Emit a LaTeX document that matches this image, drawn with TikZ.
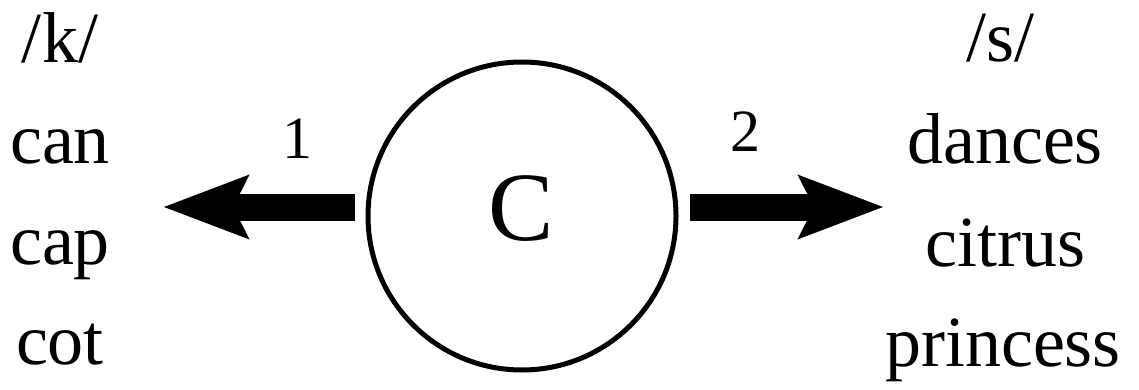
\documentclass[tikz,border=0pt]{standalone}
\usepackage{fontspec}
\setmainfont{LiberationSerif}[Extension=.ttf, UprightFont=*-Regular, BoldFont=*-Bold, ItalicFont=*-Italic, BoldItalicFont=*-BoldItalic]
\usetikzlibrary{arrows.meta}
\tikzset{
  word/.style={anchor=base, inner sep=0pt, font=\fontsize{72}{80}\selectfont},
  num/.style={anchor=base, inner sep=0pt, font=\fontsize{60}{66}\selectfont},
  bigarrow/.style={line width=27pt, shorten <=11pt, -{Stealth[length=84pt,width=61pt,inset=14pt]}},
  ring/.style={circle, draw, line width=5pt, minimum size=308pt, inner sep=0pt}
}
\begin{document}
\begin{tikzpicture}[x=1pt,y=-1pt]
\useasboundingbox (0,0) rectangle (1139,390);
\node[ring] (c) at (522,216) {};
\node[anchor=base, inner sep=0pt, font=\fontsize{98}{100}\selectfont] (cl) at (521.5,240) {C};
\coordinate (ltip) at (163,207);
\coordinate (rtip) at (884,207);
\draw[bigarrow] (c.west |- ltip) -- (ltip);
\draw[bigarrow] (c.east |- rtip) -- (rtip);
\node[num] (n1) at (297,159) {1};
\node[num] (n2) at (745,152) {2};
\node[word] (k) at (60,63) {/k/};
\node[word] (can) at (60,164) {can};
\node[word] (cap) at (60,264) {cap};
\node[word] (cot) at (60,364) {cot};
\node[word] (s) at (1000,62) {/s/};
\node[word] (dances) at (1005,164) {dances};
\node[word] (citrus) at (1005,266) {citrus};
\node[word] (princess) at (1003,366) {princess};
\end{tikzpicture}
\end{document}
